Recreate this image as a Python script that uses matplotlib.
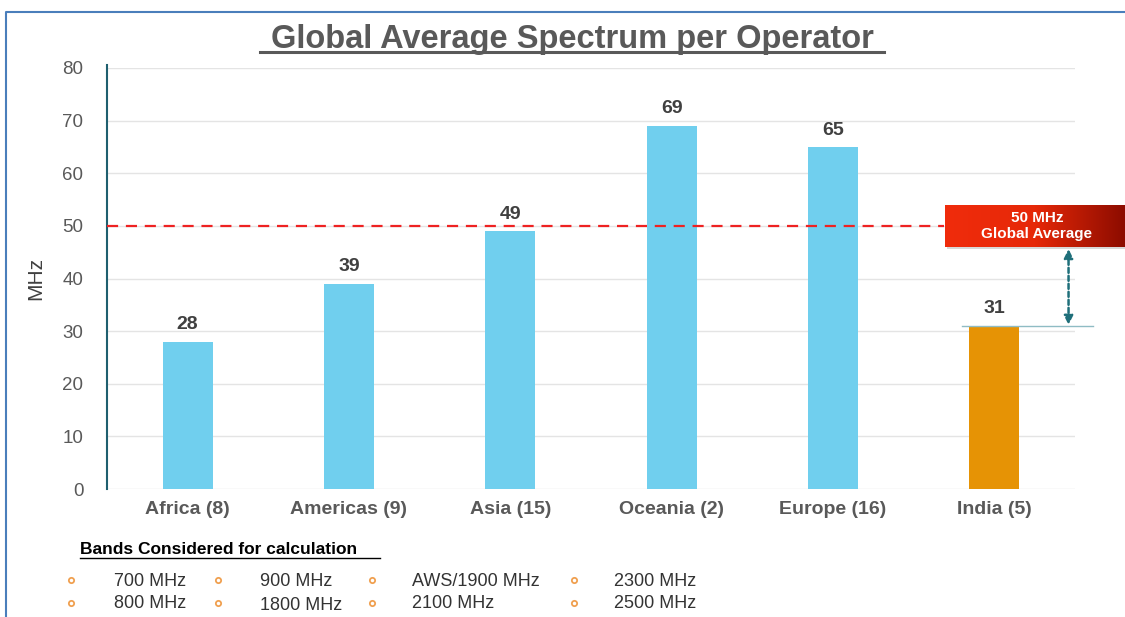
import matplotlib.pyplot as plt
import numpy as np
from matplotlib.lines import Line2D
from matplotlib.colors import LinearSegmentedColormap

# data
regions = ["Africa (8)", "Americas (9)", "Asia (15)", "Oceania (2)", "Europe (16)", "India (5)"]
spectrum = [28, 39, 49, 69, 65, 31]
bar_colors = ["#70cfee"] * 5 + ["#e69305"]
global_avg = 50
bands_row1 = ["700 MHz", "900 MHz", "AWS/1900 MHz", "2300 MHz"]
bands_row2 = ["800 MHz", "1800 MHz", "2100 MHz", "2500 MHz"]

plt.rcParams['font.family'] = ['Liberation Sans', 'DejaVu Sans']

fig = plt.figure(figsize=(11.25, 6.17), dpi=100)
ax = fig.add_axes([107 / 1125, 1 - 489 / 617, 968 / 1125, 421 / 617])

x = np.arange(len(regions))
ax.bar(x, spectrum, width=0.31, color=bar_colors, zorder=3)
for xi, v in zip(x, spectrum):
    ax.text(xi, v + 1.6, str(v), ha='center', va='bottom', fontsize=14,
            fontweight='bold', color='#404040')

ax.set_xlim(-0.5, 5.5)
ax.set_ylim(0, 80)
ax.set_yticks(range(0, 81, 10))
ax.set_xticks(x)
ax.set_xticklabels(regions, fontsize=14, fontweight='bold', color='#595959')
ax.tick_params(axis='y', labelsize=13.5, labelcolor='#595959', length=0, pad=17)
ax.tick_params(axis='x', length=0, pad=9)
ax.grid(axis='y', color='#e4e4e4', linewidth=1, zorder=0)
for s in ['top', 'right', 'bottom']:
    ax.spines[s].set_visible(False)
ax.spines['left'].set_color('#1f5f6f')
ax.spines['left'].set_linewidth(1.5)
ax.spines['left'].set_bounds(0, 80.5)
ax.set_ylabel("MHz", fontsize=15, color='#404040', labelpad=12)

# global average line
ax.plot([-0.5, 4.69], [global_avg, global_avg], color='#ee2222', linestyle=(0, (5, 3.5)),
        linewidth=1.6, zorder=4)
# India reference line and gap arrow
ax.plot([4.80, 5.61], [31, 31], color='#8fbcc4', linewidth=1, zorder=4, clip_on=False)
ax.annotate("", xy=(5.46, 31.2), xytext=(5.46, 45.6),
            arrowprops=dict(arrowstyle='<|-|>', color='#1f6f7a', linestyle=(0, (2, 1.2)),
                            linewidth=1.8, mutation_scale=13, shrinkA=0, shrinkB=0),
            annotation_clip=False)

# gradient box with a faint shadow
sax = fig.add_axes([947 / 1125, 1 - 249 / 617, 178 / 1125, 42 / 617])
sax.set_facecolor('#d8d8d8')
sax.set_xticks([])
sax.set_yticks([])
for s in sax.spines.values():
    s.set_visible(False)
bax = fig.add_axes([945 / 1125, 1 - 247 / 617, 180 / 1125, 42 / 617])
grad = np.linspace(0, 1, 256).reshape(1, -1)
cmap = LinearSegmentedColormap.from_list('r', ['#f02c0c', '#e62808', '#8c0c00'])
bax.imshow(grad, aspect='auto', cmap=cmap, extent=[0, 1, 0, 1])
bax.set_axis_off()
bax.text(0.51, 0.5, "50 MHz\nGlobal Average", transform=bax.transAxes, ha='center',
         va='center', color='white', fontsize=11, fontweight='bold', linespacing=1.25)

# title
fig.text(572 / 1125, 1 - 48 / 617, "Global Average Spectrum per Operator", ha='center',
         va='baseline', fontsize=23.5, fontweight='bold', color='#595959')
fig.add_artist(Line2D([260 / 1125, 884 / 1125], [1 - 52 / 617, 1 - 52 / 617],
                      color='#595959', linewidth=2.2))

# bands legend
fig.text(80 / 1125, 1 - 549 / 617, "Bands Considered for calculation", ha='left',
         va='center', fontsize=12.5, fontweight='bold', color='black')
fig.add_artist(Line2D([80 / 1125, 380 / 1125], [1 - 558 / 617, 1 - 558 / 617],
                      color='black', linewidth=1))
bullet_x = [71, 218, 372, 574]
text_x = [114, 260, 412, 614]
for labels, yp in [(bands_row1, 580), (bands_row2, 603)]:
    for j, lab in enumerate(labels):
        yy = yp + (1 if j == 1 else 0)
        fig.add_artist(Line2D([bullet_x[j] / 1125], [1 - yp / 617], marker='o',
                              markersize=3.8, mfc='none', mec='#f0a050', mew=1.3))
        fig.text(text_x[j] / 1125, 1 - (yy + 1) / 617, lab, ha='left', va='center',
                 fontsize=13, color='#333333')

# slide border
fig.add_artist(Line2D([6 / 1125, 6 / 1125, 1], [0, 1 - 12 / 617, 1 - 12 / 617],
                      color='#4a7ebb', linewidth=1.5))

fig.savefig("out.png", dpi=100)
